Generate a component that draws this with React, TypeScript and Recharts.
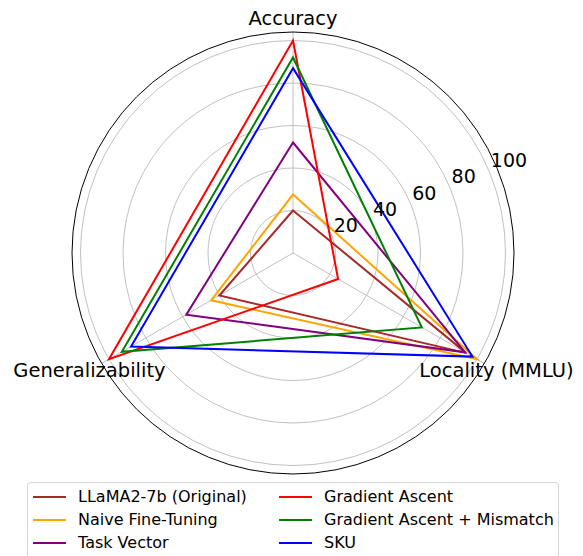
import { RadarChart, Radar, PolarGrid, PolarAngleAxis, PolarRadiusAxis } from 'recharts';

const CATEGORIES = ['Accuracy', 'Locality (MMLU)', 'Generalizability'];
const RADIUS_TICKS = [20, 40, 60, 80, 100];

const llama = [20, 94, 40];
const naiveFt = [27.5, 100, 44.5];
const taskVector = [52, 93.5, 58];
const gradAscent = [100, 24.5, 100];
const gaMismatch = [92, 70, 93];
const sku = [87, 97.5, 88];

const SERIES = [
  { key: 'llama', name: 'LLaMA2-7b (Original)', color: 'brown', values: llama },
  { key: 'naive', name: 'Naive Fine-Tuning', color: 'orange', values: naiveFt },
  { key: 'tv', name: 'Task Vector', color: 'purple', values: taskVector },
  { key: 'ga', name: 'Gradient Ascent', color: 'red', values: gradAscent },
  { key: 'gam', name: 'Gradient Ascent + Mismatch', color: 'green', values: gaMismatch },
  { key: 'sku', name: 'SKU', color: 'blue', values: sku },
];

const data = CATEGORIES.map((c, i) => {
  const row: any = { axis: c };
  SERIES.forEach(s => { row[s.key] = s.values[i]; });
  return row;
});

const FONT = '"DejaVu Sans", sans-serif';
const CX = 293;
const CY = 253;
const OUTER = 221;
const LABEL_R = 235;

function AngleTick(props: any) {
  const { x, y, payload } = props;
  const dx = x - CX, dy = y - CY;
  const d = Math.hypot(dx, dy) || 1;
  return (
    <text x={CX + dx / d * LABEL_R} y={CY + dy / d * LABEL_R} textAnchor="middle"
      dominantBaseline="central" fontSize={19.5} fontFamily={FONT} fill="#000">
      {payload.value}
    </text>
  );
}

function RadiusTick(props: any) {
  const { x, y, payload } = props;
  return (
    <text x={x + 1.5} y={y - 4.5} textAnchor="start" fontSize={19} fontFamily={FONT} fill="#000">
      {payload.value}
    </text>
  );
}

export default function App() {
  const col1 = SERIES.slice(0, 3);
  const col2 = SERIES.slice(3);
  return (
    <div style={{ position: 'absolute', left: 0, top: 0, width: 583, height: 556, overflow: 'hidden', background: '#fff' }}>
      <RadarChart width={583} height={480} data={data} cx={CX} cy={CY} outerRadius={OUTER}
        margin={{ top: 0, right: 0, bottom: 0, left: 0 }}>
        <PolarGrid gridType="circle" stroke="#b0b0b0" strokeWidth={0.8} />
        <PolarGrid gridType="circle" radialLines={false} polarRadius={[OUTER]} stroke="#000" strokeWidth={1} />
        <PolarAngleAxis dataKey="axis" tick={<AngleTick />} tickLine={false} axisLine={false} />
        <PolarRadiusAxis angle={22.5} domain={[0, 104]} ticks={RADIUS_TICKS as any} tick={<RadiusTick />}
          axisLine={false} tickLine={false} />
        {SERIES.map(s => (
          <Radar key={s.key} name={s.name} dataKey={s.key} stroke={s.color} strokeWidth={2}
            fill="none" fillOpacity={0} dot={false} isAnimationActive={false} />
        ))}
      </RadarChart>
      <div style={{ position: 'absolute', left: 27, top: 482, width: 530, height: 100, border: '1px solid #d6d6d6',
        borderRadius: 4, background: '#fff', fontFamily: FONT, fontSize: 16, color: '#000' }}>
        {[col1, col2].map((col, ci) => (
          <div key={ci} style={{ position: 'absolute', left: ci === 0 ? 5 : 251, top: 2 }}>
            {col.map(s => (
              <div key={s.key} style={{ display: 'flex', alignItems: 'center', height: 23, whiteSpace: 'nowrap' }}>
                <span style={{ display: 'inline-block', width: 33, height: 2, background: s.color, marginRight: 12 }} />
                <span>{s.name}</span>
              </div>
            ))}
          </div>
        ))}
      </div>
    </div>
  );
}
